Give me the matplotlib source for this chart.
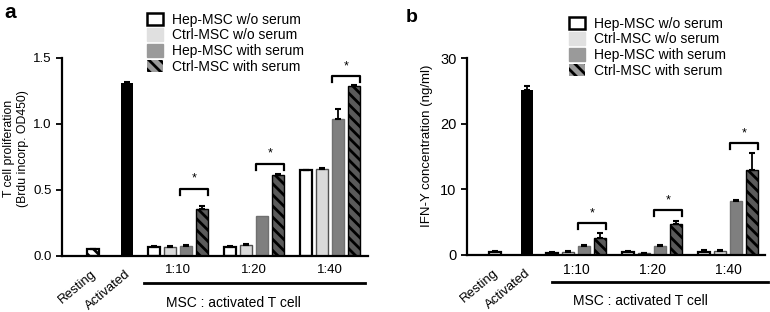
import matplotlib.pyplot as plt
from matplotlib.patches import Patch
import numpy as np

plt.rcParams['font.family'] = ['Liberation Sans', 'DejaVu Sans']
plt.rcParams['hatch.linewidth'] = 2.0

series = ['Hep-MSC w/o serum', 'Ctrl-MSC w/o serum', 'Hep-MSC with serum', 'Ctrl-MSC with serum']
ratios = ['1:10', '1:20', '1:40']

# panel a: T cell proliferation (OD450)
a_rest, a_rest_err = 0.05, 0.004
a_act, a_act_err = 1.31, 0.008
a_vals = [[0.07, 0.07, 0.075, 0.356],
          [0.07, 0.08, 0.305, 0.61],
          [0.65, 0.66, 1.035, 1.288]]
a_errs = [[0.006, 0.006, 0.006, 0.02],
          [0.006, 0.008, 0.0, 0.012],
          [0.004, 0.004, 0.08, 0.006]]
a_sig = [0.51, 0.70, 1.36]

# panel b: IFN-Y (ng/ml)
b_rest, b_rest_err = 0.5, 0.15
b_act, b_act_err = 25.1, 0.7
b_vals = [[0.3, 0.5, 1.3, 2.6],
          [0.5, 0.3, 1.3, 4.7],
          [0.4, 0.6, 8.2, 13.0]]
b_errs = [[0.1, 0.1, 0.25, 0.8],
          [0.1, 0.05, 0.2, 0.55],
          [0.3, 0.1, 0.1, 2.6]]
b_sig = [4.85, 6.8, 17.0]

styles = [dict(facecolor='white', edgecolor='black', linewidth=1.6),
          dict(facecolor='#dadada', edgecolor='#505050', linewidth=1.0),
          dict(facecolor='#7f7f7f', edgecolor='#707070', linewidth=1.0),
          dict(facecolor='#5a5a5a', edgecolor='black', linewidth=1.0, hatch='\\\\\\')]
leg_styles = [dict(facecolor='white', edgecolor='black', linewidth=1.8),
              dict(facecolor='#e0e0e0', edgecolor='#e0e0e0'),
              dict(facecolor='#9a9a9a', edgecolor='#9a9a9a'),
              dict(facecolor='#9a9a9a', edgecolor='black', linewidth=0, hatch='\\\\\\')]

W = 0.75


def panel(ax, rest, rest_err, act, act_err, vals, errs, sig, layout, ylim, yticks, ylabel,
          rest_style, line_span, label_x, fs):
    xr, xa, g0, gap, xmax = layout
    tick_fs, ratio_fs, ylab_fs, ylab_xy = fs
    ax.bar(xr, rest, W, **rest_style)
    ax.errorbar(xr, rest, yerr=[[0], [rest_err]], fmt='none', ecolor='black', capsize=2, elinewidth=1.3, capthick=1.5)
    ax.bar(xa, act, W, color='black')
    ax.errorbar(xa, act, yerr=[[0], [act_err]], fmt='none', ecolor='black', capsize=2, elinewidth=1.3, capthick=1.5)
    for i in range(3):
        xs = g0 + gap * i + np.arange(4)
        for j in range(4):
            ax.bar(xs[j], vals[i][j], W, **styles[j], zorder=2)
            if errs[i][j] > 0:
                ax.errorbar(xs[j], vals[i][j], yerr=[[0], [errs[i][j]]], fmt='none', ecolor='black',
                            capsize=2, elinewidth=1.3, capthick=1.5, zorder=3)
        # significance bracket
        tick = ylim[1] * 0.03
        x0, x1 = xs[2] - W / 2, xs[3] + W / 2
        ax.plot([x0, x0, x1, x1], [sig[i] - tick, sig[i], sig[i], sig[i] - tick], color='black', lw=1.6,
                clip_on=False)
        ax.text((x0 + x1) / 2, sig[i] + ylim[1] * 0.02, '*', ha='center', va='bottom', fontsize=9)
        ax.text(xs.mean(), -ylim[1] * 0.04, ratios[i], ha='center', va='top', fontsize=ratio_fs)
    ax.set_xlim(0, xmax)
    ax.set_ylim(*ylim)
    ax.set_yticks(yticks)
    ax.set_xticks([])
    for s in ['top', 'right']:
        ax.spines[s].set_visible(False)
    ax.spines['left'].set_linewidth(1.6)
    ax.spines['bottom'].set_linewidth(1.6)
    ax.tick_params(axis='y', labelsize=tick_fs, width=1.3, length=4)
    ax.set_ylabel(ylabel, fontsize=ylab_fs)
    ax.yaxis.set_label_coords(*ylab_xy)
    for x, name in [(xr, 'Resting'), (xa, 'Activated')]:
        ax.text(x - 0.15, -ylim[1] * 0.06, name, rotation=40, ha='right', va='top', rotation_mode='anchor',
                fontsize=9.5)
    ax.plot(line_span, [-ylim[1] * 0.135] * 2, color='black', lw=2, clip_on=False)
    ax.text(label_x, -ylim[1] * 0.2, 'MSC : activated T cell', ha='center', va='top', fontsize=10)


fig = plt.figure(figsize=(7.7, 3.12), dpi=100)
ax1 = fig.add_axes([62 / 770, 1 - 256 / 312, 306 / 770, 198 / 312])
ax2 = fig.add_axes([467 / 770, 1 - 255 / 312, 298 / 770, 197 / 312])

panel(ax1, a_rest, a_rest_err, a_act, a_act_err, a_vals, a_errs, a_sig,
      (1.94, 4.06, 5.75, 4.75, 19.1), (0, 1.5), [0.0, 0.5, 1.0, 1.5],
      'T cell proliferation\n(Brdu incorp. OD450)',
      dict(facecolor='white', edgecolor='black', linewidth=1.6, hatch='\\\\\\'),
      [5.1, 18.9], 10.7, (9.5, 9.5, 8.8, (-0.108, 0.545)))
ax1.set_yticklabels(['0.0', '0.5', '1.0', '1.5'])
panel(ax2, b_rest, b_rest_err, b_act, b_act_err, b_vals, b_errs, b_sig,
      (1.75, 3.75, 5.3, 4.75, 18.6), (0, 30), [0, 10, 20, 30],
      'IFN-Y concentration (ng/ml)',
      dict(facecolor='white', edgecolor='black', linewidth=1.6),
      [5.3, 18.8], 10.8, (10.5, 10, 9.5, (-0.114, 0.553)))

handles = [Patch(**s) for s in leg_styles]
for anchor in [(137 / 770, 1 - 3 / 312), (559 / 770, 1 - 7 / 312)]:
    fig.legend(handles, series, loc='upper left', bbox_to_anchor=anchor, frameon=False, fontsize=10,
               handlelength=1.2, handleheight=1.0, handletextpad=0.65, labelspacing=0.12, borderpad=0.2)

fig.text(4 / 770, 1 - 3 / 312, 'a', fontsize=15, fontweight='bold', va='top')
fig.text(406 / 770, 1 - 9 / 312, 'b', fontsize=14, fontweight='bold', va='top')

fig.savefig('out.png', dpi=100)
